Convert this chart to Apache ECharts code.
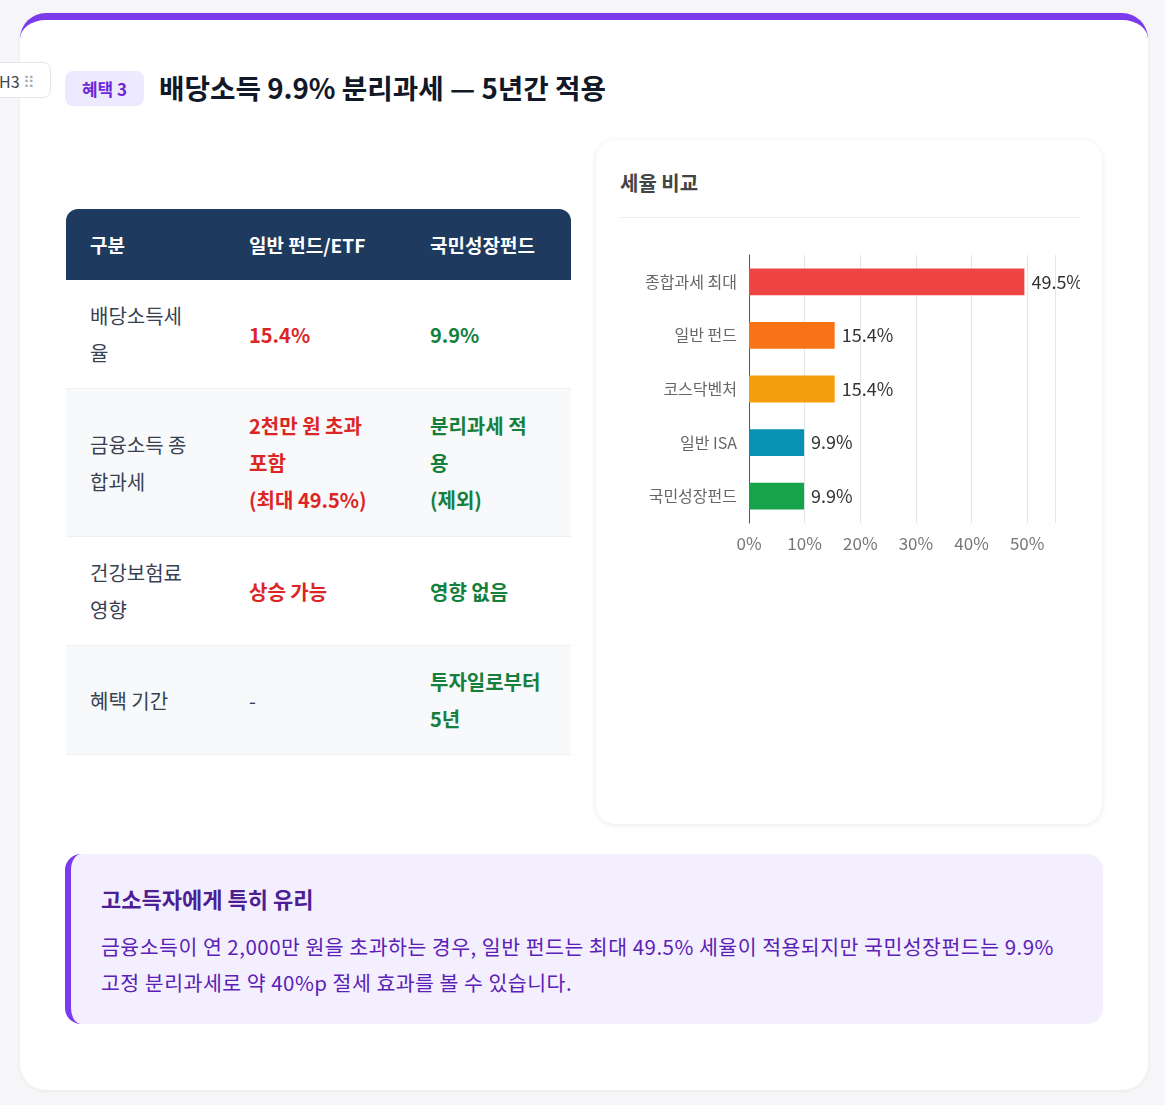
<!DOCTYPE html>
<html><head><meta charset="utf-8">
<script src="https://cdn.jsdelivr.net/npm/echarts@6/dist/echarts.min.js"></script>
<style>
body{margin:0;background:#f6f6f8;font-family:"Noto Sans CJK KR","Noto Sans",sans-serif;width:1165px;height:1105px;position:relative;overflow:hidden}
.card{position:absolute;left:20px;top:13px;width:1128px;height:1077px;background:#fff;border-radius:26px;border-top:7px solid #7c3aed;box-sizing:border-box;box-shadow:0 1px 4px rgba(0,0,0,.06)}
.h3tag{position:absolute;left:-10px;top:62px;width:61px;height:36px;background:#fff;border:1px solid #e6e6ea;border-radius:8px;color:#444;font-size:16px;line-height:36px;padding-left:8px;box-sizing:border-box}
.badge{position:absolute;left:65px;top:71px;width:79px;height:35px;background:#ede9fe;color:#6d28d9;border-radius:8px;font-weight:700;font-size:17px;text-align:center;line-height:35px}
.title{position:absolute;left:159px;top:66px;font-size:27.7px;font-weight:700;color:#111827;line-height:42px}
table{position:absolute;left:66px;top:209px;width:505px;border-collapse:separate;border-spacing:0;font-size:20px}
th{background:#1e3a5f;color:#fff;text-align:left;font-weight:700;height:71px;padding:0 0 0 24px;font-size:19px}
th:first-child{border-top-left-radius:12px}th:last-child{border-top-right-radius:12px}
td{padding:0 0 0 24px;color:#374151;line-height:37px;vertical-align:middle;border-bottom:1px solid #eef0f3}
tr.alt td{background:#f8f9fb}
.r{color:#dc2626;font-weight:700}.g{color:#15803d;font-weight:700}
.panel{position:absolute;left:596px;top:140px;width:506px;height:684px;background:#fff;border-radius:20px;box-shadow:0 1px 6px rgba(0,0,0,.09)}
.ptitle{position:absolute;left:24px;top:28px;font-size:20px;font-weight:700;color:#444}
.pline{position:absolute;left:24px;right:22px;top:77px;border-top:1px solid #eceef2}
#chart{position:absolute;left:620px;top:230px;width:460px;height:560px}
.note{position:absolute;left:65px;top:854px;width:1038px;height:170px;background:#f3effe;border-radius:16px;border-left:6px solid #7c3aed;box-sizing:border-box;padding:28px 30px}
.note h4{margin:0 0 14px;font-size:22px;color:#4c1d95;font-weight:700}
.note p{margin:0;font-size:20.5px;line-height:36px;color:#5b21b6;white-space:nowrap;letter-spacing:0.5px}
</style></head><body>
<div class="card"></div>
<div class="h3tag">H3 <span style="color:#aaa;letter-spacing:-2px">⠿</span></div>
<div class="badge">혜택 3</div>
<div class="title">배당소득 9.9% 분리과세 — 5년간 적용</div>
<table>
<tr><th style="width:135px">구분</th><th style="width:157px">일반 펀드/ETF</th><th>국민성장펀드</th></tr>
<tr style="height:109px"><td>배당소득세<br>율</td><td class="r">15.4%</td><td class="g">9.9%</td></tr>
<tr class="alt" style="height:148px"><td>금융소득 종<br>합과세</td><td class="r">2천만 원 초과<br>포함<br>(최대 49.5%)</td><td class="g">분리과세 적<br>용<br>(제외)</td></tr>
<tr style="height:109px"><td>건강보험료<br>영향</td><td class="r">상승 가능</td><td class="g">영향 없음</td></tr>
<tr class="alt" style="height:109px"><td>혜택 기간</td><td>-</td><td class="g">투자일로부터<br>5년</td></tr>
</table>
<div class="panel"><div class="ptitle">세율 비교</div><div class="pline"></div></div>
<div id="chart"></div>
<div class="note"><h4>고소득자에게 특히 유리</h4><p>금융소득이 연 2,000만 원을 초과하는 경우, 일반 펀드는 최대 49.5% 세율이 적용되지만 국민성장펀드는 9.9%<br>고정 분리과세로 약 40%p 절세 효과를 볼 수 있습니다.</p></div>
<script>
const categories=["종합과세 최대","일반 펀드","코스닥벤처","일반 ISA","국민성장펀드"];
const values=[49.5,15.4,15.4,9.9,9.9];
const colors=["#ef4444","#f97316","#f59e0b","#0891b2","#16a34a"];
const tickLabels=["0%","10%","20%","30%","40%","50%"];
const c=echarts.init(document.getElementById('chart'));
c.setOption({
 animation:false,
 textStyle:{fontFamily:"Noto Sans CJK KR"},
 grid:{left:129,right:25,top:25,height:268},
 xAxis:{type:'value',min:0,max:55,interval:10,
  axisLabel:{showMaxLabel:false,color:'#777',fontSize:17,margin:12,formatter:v=>tickLabels[v/10]},
  splitLine:{lineStyle:{color:'#e3e6ee'}},axisLine:{show:false}},
 yAxis:{type:'category',inverse:true,data:categories,
  axisLine:{lineStyle:{color:'#555'}},axisTick:{lineStyle:{color:'#555'}},
  axisLabel:{color:'#666',fontSize:16,margin:12}},
 series:[{type:'bar',barWidth:'50%',
  data:values.map((v,i)=>({value:v,itemStyle:{color:colors[i]}})),
  label:{show:true,position:'right',distance:7,color:'#333',fontSize:18,formatter:p=>p.value+'%'}}]
});
</script>
</body></html>
